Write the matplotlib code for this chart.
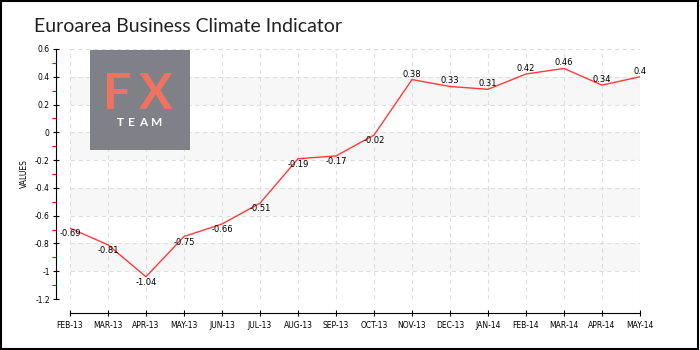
#!/usr/bin/env python
""" Euroarea business climate line chart """

import matplotlib as mpl
import matplotlib.pyplot as plt
from matplotlib.patches import Rectangle

mpl.rcParams["font.family"] = ["DejaVu Sans"]

# Monthly readings, Feb 2013 - May 2014
months = [
    "FEB-13", "MAR-13", "APR-13", "MAY-13", "JUN-13", "JUL-13", "AUG-13",
    "SEP-13", "OCT-13", "NOV-13", "DEC-13", "JAN-14", "FEB-14", "MAR-14",
    "APR-14", "MAY-14",
]
values = [
    -0.69, -0.81, -1.04, -0.75, -0.66, -0.51, -0.19, -0.17, -0.02,
    0.38, 0.33, 0.31, 0.42, 0.46, 0.34, 0.4,
]
y_ticks = [-1.2, -1, -0.8, -0.6, -0.4, -0.2, 0, 0.2, 0.4, 0.6]
y_tick_labels = ["-1.2", "-1", "-0.8", "-0.6", "-0.4", "-0.2", "0", "0.2", "0.4", "0.6"]
title = "Euroarea Business Climate Indicator"


def main():
    """ Main function """
    fig = plt.figure(figsize=(7, 3.5), dpi=100)
    ax = fig.add_axes([0.1, 0.1457, 0.8143, 0.7143])

    x = list(range(len(months)))
    ax.set_xlim(0, len(months) - 1)
    ax.set_ylim(-1.2, 0.6)

    # Spine offsets first: moving a spine resets its ticks
    for side in ["top", "right"]:
        ax.spines[side].set_visible(False)
    ax.spines["left"].set_position(("outward", 10))
    ax.spines["bottom"].set_position(("outward", 10))

    # Alternating bands behind the data
    for i in range(len(y_ticks) - 1):
        if i % 2 == 1:
            ax.axhspan(y_ticks[i], y_ticks[i + 1], color="#f7f7f7", zorder=0, lw=0)

    ax.grid(True, color="#dedede", linestyle=(0, (4, 3)), linewidth=0.8, zorder=1)
    ax.set_axisbelow(True)

    ax.plot(x, values, color="#ff3b3b", linewidth=1.0, zorder=3)
    for xi, v in zip(x, values):
        off = 4 if v > 0 else -4
        ax.annotate(
            "{:g}".format(v),
            (xi, v),
            xytext=(0, off),
            textcoords="offset points",
            ha="center",
            va="center",
            fontsize=6,
            color="black",
            zorder=4,
        )

    ax.set_xticks(x)
    ax.set_xticklabels(months)
    ax.set_yticks(y_ticks)
    ax.set_yticklabels(y_tick_labels)
    ax.set_yticks([t + 0.1 for t in y_ticks[:-1]], minor=True)

    ax.tick_params(axis="x", direction="inout", length=5, width=0.8, pad=3,
                   labelsize=5.5)
    ax.tick_params(axis="y", which="major", direction="inout", length=5,
                   width=0.8, pad=2, labelsize=5.5)
    ax.tick_params(axis="y", which="minor", direction="out", length=3,
                   width=0.8, color="red")

    ax.set_ylabel("VALUES", fontsize=5.5, labelpad=4)

    # FX Team logo
    fig.patches.append(
        Rectangle((90 / 700, 1 - 150 / 350), 100 / 700, 100 / 350,
                  transform=fig.transFigure, facecolor="#7b7b83", alpha=0.96,
                  zorder=5)
    )
    for ch, cx in zip("FX", [117, 156]):
        fig.text(cx / 700, 1 - 95 / 350, ch, color="#f07361", fontsize=36,
                 family="Lato", weight="bold", ha="center", va="center",
                 zorder=6)
    for ch, cx in zip("TEAM", [120, 131, 143, 157]):
        fig.text(cx / 700, 1 - 122 / 350, ch, color="white", fontsize=8.5,
                 family="Lato", weight="bold", ha="center", va="center", zorder=6)

    fig.text(34 / 700, 1 - 27 / 350, title, fontsize=14, family="Lato",
             color="#222222", ha="left", va="center")

    # Outer frame
    fig.patches.append(
        Rectangle((0.001, 0.003), 0.996, 0.994, transform=fig.transFigure,
                  fill=False, edgecolor="black", linewidth=1.5)
    )

    fig.savefig("out.png", dpi=100)


if __name__ == "__main__":
    main()
